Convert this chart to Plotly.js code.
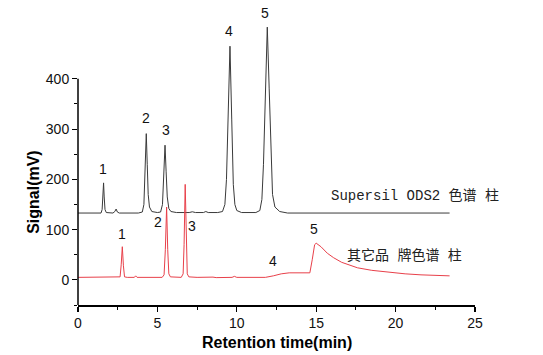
<!DOCTYPE html>
<html>
<head>
<meta charset="utf-8">
<script src="https://cdn.plot.ly/plotly-3.0.1.min.js"></script>
<style>html,body{margin:0;padding:0;background:#fff;}#chart{width:543px;height:355px;}</style>
</head>
<body>
<div id="chart"></div>
<script>
// Supersil ODS2 column chromatogram (offset baseline ~133 mV)
const blackTime = [0.0, 1.0, 1.45, 1.52, 1.57, 1.61, 1.65, 1.70, 1.78, 2.2, 2.32, 2.4, 2.48, 2.6, 3.8, 4.05, 4.15, 4.22, 4.30, 4.36, 4.42, 4.5, 4.65, 5.0, 5.2, 5.32, 5.40, 5.48, 5.55, 5.62, 5.72, 5.85, 6.2, 7.0, 7.2, 7.4, 7.9, 8.05, 8.2, 8.8, 9.1, 9.25, 9.35, 9.45, 9.57, 9.68, 9.78, 9.88, 10.0, 10.3, 11.2, 11.45, 11.58, 11.68, 11.8, 11.92, 12.04, 12.15, 12.25, 12.4, 12.7, 13.2, 18.0, 23.4];
const blackSignal = [133, 133, 133, 140, 170, 193, 165, 140, 134, 133, 136, 141, 135, 133, 133, 135, 150, 210, 291, 230, 170, 145, 136, 134, 135, 150, 200, 268, 215, 165, 142, 136, 134, 134, 135.5, 134, 134, 136, 134, 134, 136, 150, 200, 320, 465, 320, 190, 150, 138, 134, 134, 138, 160, 230, 390, 503, 380, 240, 170, 145, 136, 133, 133, 133];

// Other brand column chromatogram
const redTime = [0.0, 2.5, 2.65, 2.72, 2.79, 2.86, 2.93, 3.1, 3.55, 3.63, 3.72, 5.3, 5.42, 5.5, 5.58, 5.65, 5.72, 5.82, 6.5, 6.62, 6.68, 6.75, 6.82, 6.88, 6.98, 7.5, 8.5, 8.7, 9.7, 9.85, 10.0, 11.0, 11.8, 12.3, 12.8, 13.3, 14.0, 14.6, 14.75, 14.9, 15.0, 15.3, 15.7, 16.1, 16.6, 17.1, 17.6, 18.5, 19.6, 20.6, 21.6, 22.5, 23.4];
const redSignal = [5, 5, 6, 30, 66, 28, 6, 5, 5, 8, 5, 5, 10, 60, 145, 60, 12, 6, 5, 12, 70, 190, 70, 12, 6, 5, 5.5, 4.5, 5, 7, 5, 4.5, 5, 8, 12, 14, 14, 14, 40, 70, 73, 66, 53, 44, 35, 29, 24, 19, 15, 12, 10, 9, 8];

// Peak number labels
const blackLabelText = ["1", "2", "3", "4", "5"];
const blackLabelX = [1.57, 4.28, 5.54, 9.5, 11.78];
const blackLabelY = [221, 322, 298, 495, 531];
const redLabelText = ["1", "2", "3", "4", "5"];
const redLabelX = [2.77, 5.04, 7.18, 12.28, 14.86];
const redLabelY = [91, 115, 107, 38, 101];

const seriesNames = ["Supersil ODS2 色谱 柱", "其它品 牌色谱 柱"];
const seriesNameX = [15.8, 16.8];
const seriesNameY = [167, 48];

const xTicks = [0, 5, 10, 15, 20, 25];
const xMinorTicks = [2.5, 7.5, 12.5, 17.5, 22.5];
const yTicks = [0, 100, 200, 300, 400];
const yMinorTicks = [-50, 50, 150, 250, 350];

const numFont = {family: "Liberation Sans, Arial, sans-serif", size: 14, color: "#111"};
const annotations = [];
blackLabelText.forEach((t, i) => annotations.push({x: blackLabelX[i], y: blackLabelY[i], xref: "x", yref: "y", text: t, showarrow: false, font: numFont}));
redLabelText.forEach((t, i) => annotations.push({x: redLabelX[i], y: redLabelY[i], xref: "x", yref: "y", text: t, showarrow: false, font: numFont}));
seriesNames.forEach((t, i) => annotations.push({x: seriesNameX[i], y: seriesNameY[i], xref: "x", yref: "y", text: t, showarrow: false, xanchor: "left",
  font: {family: "Liberation Mono, Noto Sans CJK SC, monospace", size: 14, color: "#222"}}));
annotations.push({x: 0.5, y: -0.127, xref: "paper", yref: "paper", text: "<b>Retention time(min)</b>", showarrow: false, yanchor: "middle",
  font: {family: "Liberation Sans, Arial, sans-serif", size: 16, color: "#000"}});
annotations.push({x: -0.111, y: 175, xref: "paper", yref: "y", text: "<b>Signal(mV)</b>", showarrow: false, textangle: -90, xanchor: "center", yanchor: "middle",
  font: {family: "Liberation Sans, Arial, sans-serif", size: 16, color: "#000"}});

const traces = [
  {x: blackTime, y: blackSignal, type: "scatter", mode: "lines", line: {color: "#3a3a3a", width: 1}, hoverinfo: "skip"},
  {x: redTime, y: redSignal, type: "scatter", mode: "lines", line: {color: "#e8404a", width: 1}, hoverinfo: "skip"}
];

const layout = {
  width: 543, height: 355,
  margin: {l: 78, r: 68, t: 6, b: 50},
  paper_bgcolor: "#fff", plot_bgcolor: "#fff",
  showlegend: false,
  xaxis: {range: [0, 25], tickmode: "array", tickvals: xTicks, ticks: "outside", ticklen: 5, tickwidth: 1.2, tickcolor: "#000",
    showline: true, linecolor: "#000", linewidth: 1.5, showgrid: false, zeroline: false,
    tickfont: numFont, minor: {tickvals: xMinorTicks, ticks: "outside", ticklen: 3, tickcolor: "#000", tickwidth: 1}},
  yaxis: {range: [-50, 545], tickmode: "array", tickvals: yTicks, ticks: "outside", ticklen: 5, tickwidth: 1.2, tickcolor: "#000",
    showline: false, showgrid: false, zeroline: false,
    tickfont: numFont, minor: {tickvals: yMinorTicks, ticks: "outside", ticklen: 3, tickcolor: "#000", tickwidth: 1}},
  shapes: [{type: "line", xref: "paper", yref: "y", x0: 0, x1: 0, y0: -50, y1: 400, line: {color: "#000", width: 1.5}, layer: "above"}],
  annotations: annotations
};

Plotly.newPlot("chart", traces, layout, {displayModeBar: false, staticPlot: true});
</script>
</body>
</html>
